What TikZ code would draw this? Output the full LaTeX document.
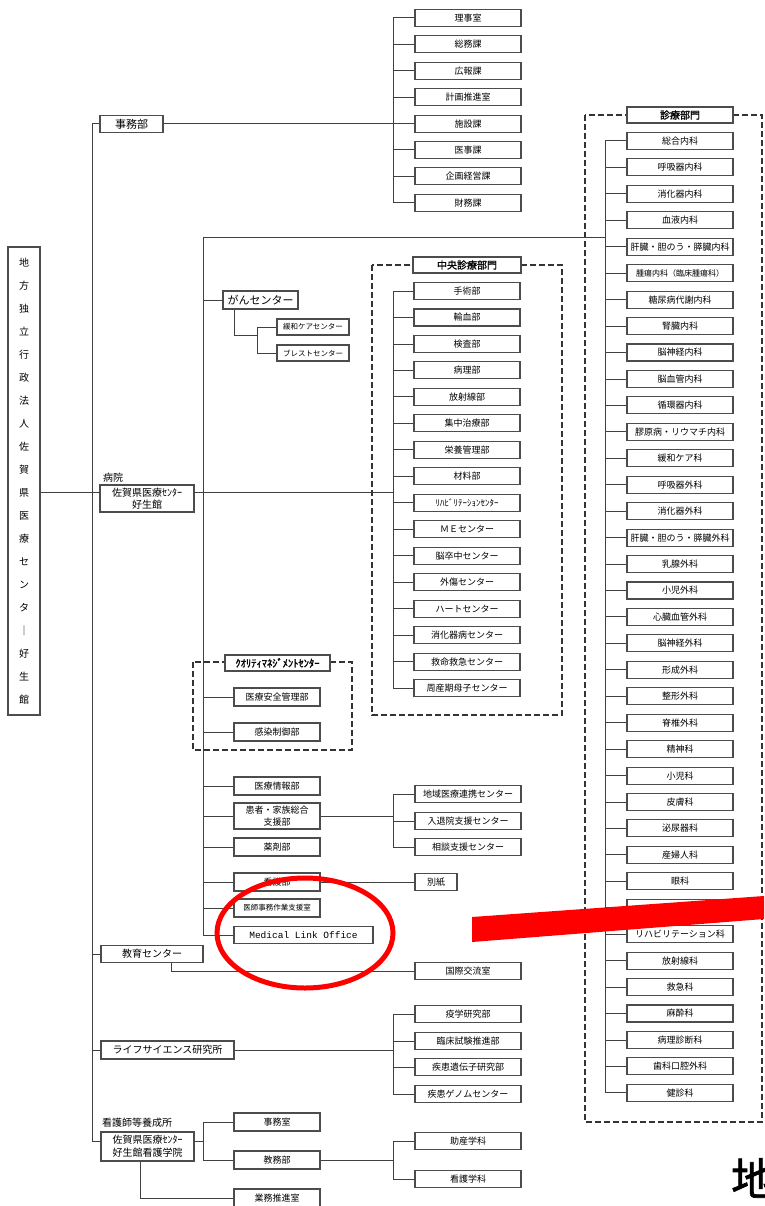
\documentclass[tikz,border=0pt]{standalone}
\usepackage{fontspec}
\setmainfont{Noto Sans CJK JP}
\newfontfamily\jpbold[FakeBold=1.5]{Noto Sans CJK JP}
\newfontfamily\latinmono{Liberation Mono}
\tikzset{
	unit/.style={draw=black!70, line width=1.1pt, fill=white, minimum width=106pt, minimum height=17pt, inner sep=0pt, font=\fontsize{9}{10}\selectfont},
	midunit/.style={unit, minimum width=86pt, minimum height=18pt},
	grptitle/.style={unit, minimum height=16pt, font=\jpbold\fontsize{10}{11}\selectfont},
	grpframe/.style={draw=black!80, line width=1.6pt, dash pattern=on 6pt off 3pt},
	wire/.style={draw=black!75, line width=1pt},
	redmark/.style={draw=red, line width=5pt}
}
\begin{document}
\begin{tikzpicture}[x=1pt,y=-1pt]
	\useasboundingbox (0,0) rectangle (764,1206);
	\draw[grpframe] (585,115) rectangle (762,1122);
	\draw[grpframe] (372,265) rectangle (562,715);
	\draw[grpframe] (193,662) rectangle (352,750);
	\node[unit, minimum width=32pt, minimum height=468pt, align=center, font=\fontsize{10}{23}\selectfont] (root) at (24,481) {地\\方\\独\\立\\行\\政\\法\\人\\佐\\賀\\県\\医\\療\\セ\\ン\\タ\\｜\\好\\生\\館};
	\node[unit, minimum width=63pt, font=\fontsize{11}{12}\selectfont] (jimu) at (131.5,124) {事務部};
	\node[unit] (jm1) at (468,18) {理事室};
	\node[unit] (jm2) at (468,44.4) {総務課};
	\node[unit] (jm3) at (468,70.8) {広報課};
	\node[unit] (jm4) at (468,97.2) {計画推進室};
	\node[unit] (jm5) at (468,124) {施設課};
	\node[unit] (jm6) at (468,150) {医事課};
	\node[unit] (jm7) at (468,176.4) {企画経営課};
	\node[unit] (jm8) at (468,202.8) {財務課};
	\node[font=\fontsize{10}{11}\selectfont] (hosplabel) at (113,478) {病院};
	\node[unit, minimum width=94pt, minimum height=27pt, align=center, font=\fontsize{10}{12}\selectfont] (hosp) at (147,498.5) {佐賀県医療ｾﾝﾀｰ\\好生館};
	\node[unit, minimum width=75pt, minimum height=18pt, font=\fontsize{11}{12}\selectfont] (gan) at (260.5,300) {がんセンター};
	\node[unit, minimum width=72pt, minimum height=16pt, font=\fontsize{7.5}{8}\selectfont] (kanwa) at (313,327) {緩和ケアセンター};
	\node[unit, minimum width=72pt, minimum height=16pt, font=\fontsize{7.5}{8}\selectfont] (breast) at (313,353) {ブレストセンター};
	\node[grptitle, minimum width=108pt] (cctitle) at (467,265) {中央診療部門};
	\node[unit] (cc01) at (467,291) {手術部};
	\node[unit] (cc02) at (467,317.5) {輸血部};
	\node[unit] (cc03) at (467,344) {検査部};
	\node[unit] (cc04) at (467,370.4) {病理部};
	\node[unit] (cc05) at (467,396.9) {放射線部};
	\node[unit] (cc06) at (467,423.4) {集中治療部};
	\node[unit] (cc07) at (467,449.8) {栄養管理部};
	\node[unit] (cc08) at (467,476.3) {材料部};
	\node[unit] (cc09) at (467,502.8) {ﾘﾊﾋﾞﾘﾃｰｼｮﾝｾﾝﾀｰ};
	\node[unit] (cc10) at (467,529.2) {ＭＥセンター};
	\node[unit] (cc11) at (467,555.7) {脳卒中センター};
	\node[unit] (cc12) at (467,582.2) {外傷センター};
	\node[unit] (cc13) at (467,608.6) {ハートセンター};
	\node[unit] (cc14) at (467,635.1) {消化器病センター};
	\node[unit] (cc15) at (467,661.6) {救命救急センター};
	\node[unit] (cc16) at (467,688) {周産期母子センター};
	\node[grptitle] (srtitle) at (680,115) {診療部門};
	\node[unit] (sr01) at (680,141) {総合内科};
	\node[unit] (sr02) at (680,167.4) {呼吸器内科};
	\node[unit] (sr03) at (680,193.9) {消化器内科};
	\node[unit] (sr04) at (680,220.3) {血液内科};
	\node[unit] (sr05) at (680,246.8) {肝臓・胆のう・膵臓内科};
	\node[unit, font=\fontsize{8}{9}\selectfont] (sr06) at (680,273.2) {腫瘍内科（臨床腫瘍科）};
	\node[unit] (sr07) at (680,299.6) {糖尿病代謝内科};
	\node[unit] (sr08) at (680,326.1) {腎臓内科};
	\node[unit] (sr09) at (680,352.5) {脳神経内科};
	\node[unit] (sr10) at (680,379) {脳血管内科};
	\node[unit] (sr11) at (680,405.4) {循環器内科};
	\node[unit] (sr12) at (680,431.8) {膠原病・リウマチ内科};
	\node[unit] (sr13) at (680,458.3) {緩和ケア科};
	\node[unit] (sr14) at (680,484.7) {呼吸器外科};
	\node[unit] (sr15) at (680,511.2) {消化器外科};
	\node[unit] (sr16) at (680,537.6) {肝臓・胆のう・膵臓外科};
	\node[unit] (sr17) at (680,564) {乳腺外科};
	\node[unit] (sr18) at (680,590.5) {小児外科};
	\node[unit] (sr19) at (680,616.9) {心臓血管外科};
	\node[unit] (sr20) at (680,643.4) {脳神経外科};
	\node[unit] (sr21) at (680,669.8) {形成外科};
	\node[unit] (sr22) at (680,696.2) {整形外科};
	\node[unit] (sr23) at (680,722.7) {脊椎外科};
	\node[unit] (sr24) at (680,749.1) {精神科};
	\node[unit] (sr25) at (680,775.6) {小児科};
	\node[unit] (sr26) at (680,802) {皮膚科};
	\node[unit] (sr27) at (680,828.4) {泌尿器科};
	\node[unit] (sr28) at (680,854.9) {産婦人科};
	\node[unit] (sr29) at (680,881.3) {眼科};
	\node[unit] (sr30) at (680,907.8) {};
	\node[unit] (sr31) at (680,934.2) {リハビリテーション科};
	\node[unit] (sr32) at (680,960.6) {放射線科};
	\node[unit] (sr33) at (680,987.1) {救急科};
	\node[unit] (sr34) at (680,1013.5) {麻酔科};
	\node[unit] (sr35) at (680,1040) {病理診断科};
	\node[unit] (sr36) at (680,1066.4) {歯科口腔外科};
	\node[unit] (sr37) at (680,1092.8) {健診科};
	\node[grptitle, minimum width=105pt, font=\jpbold\fontsize{10.5}{11}\selectfont] (qmtitle) at (277.5,663) {ｸｵﾘﾃｨﾏﾈｼﾞﾒﾝﾄｾﾝﾀｰ};
	\node[midunit] (qm1) at (277,697) {医療安全管理部};
	\node[midunit] (qm2) at (277,732) {感染制御部};
	\node[midunit] (joho) at (277,786) {医療情報部};
	\node[midunit, minimum height=26pt, align=center, font=\fontsize{9}{12}\selectfont] (kanja) at (277,816) {患者・家族総合\\支援部};
	\node[midunit] (yaku) at (277,847) {薬剤部};
	\node[midunit] (kango) at (277,882) {看護部};
	\node[midunit, font=\fontsize{7.5}{8}\selectfont] (ishi) at (277,908) {医師事務作業支援室};
	\node[unit, minimum width=139pt, font=\latinmono\fontsize{9.5}{10}\selectfont] (mlo) at (303.5,935) {Medical Link Office};
	\node[unit] (pt1) at (468,794) {地域医療連携センター};
	\node[unit] (pt2) at (468,821) {入退院支援センター};
	\node[unit] (pt3) at (468,847) {相談支援センター};
	\node[unit, minimum width=42pt] (besshi) at (436,882) {別紙};
	\node[unit, minimum width=102pt, font=\fontsize{10}{11}\selectfont] (edu) at (152,954) {教育センター};
	\node[unit] (intl) at (468,971) {国際交流室};
	\node[unit, minimum width=133pt, minimum height=18pt, font=\fontsize{10}{11}\selectfont] (life) at (167.5,1050) {ライフサイエンス研究所};
	\node[unit] (ls1) at (468,1014) {疫学研究部};
	\node[unit] (ls2) at (468,1041) {臨床試験推進部};
	\node[unit] (ls3) at (468,1067) {疾患遺伝子研究部};
	\node[unit] (ls4) at (468,1094) {疾患ゲノムセンター};
	\node[font=\fontsize{10}{11}\selectfont, anchor=west, inner sep=0pt] (nslabel) at (102,1123) {看護師等養成所};
	\node[unit, minimum width=93pt, minimum height=29pt, align=center, font=\fontsize{10}{13}\selectfont] (ns) at (147.5,1146.5) {佐賀県医療ｾﾝﾀｰ\\好生館看護学院};
	\node[midunit] (nsjimu) at (277,1122) {事務室};
	\node[midunit] (kyomu) at (277,1160) {教務部};
	\node[midunit] (gyomu) at (277,1198) {業務推進室};
	\node[unit] (josan) at (468,1141) {助産学科};
	\node[unit] (kgaku) at (468,1179) {看護学科};
	\coordinate (mainbus) at (92,124);
	\coordinate (jmbus) at (393,18);
	\coordinate (hospin) at (100,492);
	\coordinate (hospout) at (194,492);
	\coordinate (hospbus) at (203,238);
	\coordinate (srbus) at (605,141);
	\coordinate (ccbus) at (393,291);
	\coordinate (ganbus) at (257,327);
	\coordinate (ptbus) at (393,794);
	\coordinate (lsbus) at (393,1014);
	\coordinate (nsin) at (101,1141);
	\coordinate (nsout) at (194,1141);
	\coordinate (nsbus) at (203,1122);
	\coordinate (kybus) at (393,1141);
	\draw[wire] (mainbus |- jimu) -- (mainbus |- nsin);
	\draw[wire] (mainbus |- jimu) -- (jimu.west);
	\draw[wire] (root.east |- hospin) -- (hospin);
	\draw[wire] (mainbus |- edu) -- (edu.west);
	\draw[wire] (mainbus |- life) -- (life.west);
	\draw[wire] (mainbus |- nsin) -- (nsin);
	\draw[wire] (jimu.east) -- (jm5.west);
	\draw[wire] (jmbus |- jm1) -- (jmbus |- jm8);
	\draw[wire] (jmbus |- jm1) -- (jm1.west);
	\draw[wire] (jmbus |- jm2) -- (jm2.west);
	\draw[wire] (jmbus |- jm3) -- (jm3.west);
	\draw[wire] (jmbus |- jm4) -- (jm4.west);
	\draw[wire] (jmbus |- jm6) -- (jm6.west);
	\draw[wire] (jmbus |- jm7) -- (jm7.west);
	\draw[wire] (jmbus |- jm8) -- (jm8.west);
	\draw[wire] (hospout) -- (ccbus |- hospout);
	\draw[wire] (hospbus) -- (hospbus |- mlo);
	\draw[wire] (hospbus) -- (srbus |- hospbus);
	\draw[wire] (hospbus |- gan) -- (gan.west);
	\draw[wire] ([xshift=12pt]gan.south west) |- (ganbus |- kanwa.south);
	\draw[wire] (ganbus |- kanwa) -- (ganbus |- breast);
	\draw[wire] (ganbus |- kanwa) -- (kanwa.west);
	\draw[wire] (ganbus |- breast) -- (breast.west);
	\draw[wire] (hospbus |- qm1) -- (qm1.west);
	\draw[wire] (hospbus |- qm2) -- (qm2.west);
	\draw[wire] (hospbus |- joho) -- (joho.west);
	\draw[wire] (hospbus |- kanja) -- (kanja.west);
	\draw[wire] (hospbus |- yaku) -- (yaku.west);
	\draw[wire] (hospbus |- kango) -- (kango.west);
	\draw[wire] (hospbus |- ishi) -- (ishi.west);
	\draw[wire] (hospbus |- mlo) -- (mlo.west);
	\draw[wire] (kanja.east) -- (ptbus |- kanja);
	\draw[wire] (ptbus |- pt1) -- (ptbus |- pt3);
	\draw[wire] (ptbus |- pt1) -- (pt1.west);
	\draw[wire] (ptbus |- pt2) -- (pt2.west);
	\draw[wire] (ptbus |- pt3) -- (pt3.west);
	\draw[wire] (kango.east) -- (besshi.west);
	\draw[wire] ([xshift=71pt]edu.south west) |- (intl.west);
	\draw[wire] (life.east) -- (lsbus |- life);
	\draw[wire] (lsbus |- ls1) -- (lsbus |- ls4);
	\draw[wire] (lsbus |- ls1) -- (ls1.west);
	\draw[wire] (lsbus |- ls2) -- (ls2.west);
	\draw[wire] (lsbus |- ls3) -- (ls3.west);
	\draw[wire] (lsbus |- ls4) -- (ls4.west);
	\draw[wire] (nsout) -- (nsbus |- nsout);
	\draw[wire] (nsbus |- nsjimu) -- (nsbus |- kyomu);
	\draw[wire] (nsbus |- nsjimu) -- (nsjimu.west);
	\draw[wire] (nsbus |- kyomu) -- (kyomu.west);
	\draw[wire] ([xshift=40pt]ns.south west) |- (gyomu.west);
	\draw[wire] (kyomu.east) -- (kybus |- kyomu);
	\draw[wire] (kybus |- josan) -- (kybus |- kgaku);
	\draw[wire] (kybus |- josan) -- (josan.west);
	\draw[wire] (kybus |- kgaku) -- (kgaku.west);
	\draw[wire] (ccbus |- cc01) -- (ccbus |- cc16);
	\draw[wire] (ccbus |- cc01) -- (cc01.west);
	\draw[wire] (ccbus |- cc02) -- (cc02.west);
	\draw[wire] (ccbus |- cc03) -- (cc03.west);
	\draw[wire] (ccbus |- cc04) -- (cc04.west);
	\draw[wire] (ccbus |- cc05) -- (cc05.west);
	\draw[wire] (ccbus |- cc06) -- (cc06.west);
	\draw[wire] (ccbus |- cc07) -- (cc07.west);
	\draw[wire] (ccbus |- cc08) -- (cc08.west);
	\draw[wire] (ccbus |- cc09) -- (cc09.west);
	\draw[wire] (ccbus |- cc10) -- (cc10.west);
	\draw[wire] (ccbus |- cc11) -- (cc11.west);
	\draw[wire] (ccbus |- cc12) -- (cc12.west);
	\draw[wire] (ccbus |- cc13) -- (cc13.west);
	\draw[wire] (ccbus |- cc14) -- (cc14.west);
	\draw[wire] (ccbus |- cc15) -- (cc15.west);
	\draw[wire] (ccbus |- cc16) -- (cc16.west);
	\draw[wire] (srbus |- sr01) -- (srbus |- sr37);
	\draw[wire] (srbus |- sr01) -- (sr01.west);
	\draw[wire] (srbus |- sr02) -- (sr02.west);
	\draw[wire] (srbus |- sr03) -- (sr03.west);
	\draw[wire] (srbus |- sr04) -- (sr04.west);
	\draw[wire] (srbus |- sr05) -- (sr05.west);
	\draw[wire] (srbus |- sr06) -- (sr06.west);
	\draw[wire] (srbus |- sr07) -- (sr07.west);
	\draw[wire] (srbus |- sr08) -- (sr08.west);
	\draw[wire] (srbus |- sr09) -- (sr09.west);
	\draw[wire] (srbus |- sr10) -- (sr10.west);
	\draw[wire] (srbus |- sr11) -- (sr11.west);
	\draw[wire] (srbus |- sr12) -- (sr12.west);
	\draw[wire] (srbus |- sr13) -- (sr13.west);
	\draw[wire] (srbus |- sr14) -- (sr14.west);
	\draw[wire] (srbus |- sr15) -- (sr15.west);
	\draw[wire] (srbus |- sr16) -- (sr16.west);
	\draw[wire] (srbus |- sr17) -- (sr17.west);
	\draw[wire] (srbus |- sr18) -- (sr18.west);
	\draw[wire] (srbus |- sr19) -- (sr19.west);
	\draw[wire] (srbus |- sr20) -- (sr20.west);
	\draw[wire] (srbus |- sr21) -- (sr21.west);
	\draw[wire] (srbus |- sr22) -- (sr22.west);
	\draw[wire] (srbus |- sr23) -- (sr23.west);
	\draw[wire] (srbus |- sr24) -- (sr24.west);
	\draw[wire] (srbus |- sr25) -- (sr25.west);
	\draw[wire] (srbus |- sr26) -- (sr26.west);
	\draw[wire] (srbus |- sr27) -- (sr27.west);
	\draw[wire] (srbus |- sr28) -- (sr28.west);
	\draw[wire] (srbus |- sr29) -- (sr29.west);
	\draw[wire] (srbus |- sr30) -- (sr30.west);
	\draw[wire] (srbus |- sr31) -- (sr31.west);
	\draw[wire] (srbus |- sr32) -- (sr32.west);
	\draw[wire] (srbus |- sr33) -- (sr33.west);
	\draw[wire] (srbus |- sr34) -- (sr34.west);
	\draw[wire] (srbus |- sr35) -- (sr35.west);
	\draw[wire] (srbus |- sr36) -- (sr36.west);
	\draw[wire] (srbus |- sr37) -- (sr37.west);
	\fill[red] (472,917) -- (764,896) -- (764,919) -- (472,942) -- cycle;
	\draw[redmark] (305,933) ellipse [x radius=88pt, y radius=55pt];
	\node[font=\jpbold\fontsize{44}{44}\selectfont, anchor=north west, inner sep=0pt] (bigchar) at (731,1158) {地};
\end{tikzpicture}
\end{document}
